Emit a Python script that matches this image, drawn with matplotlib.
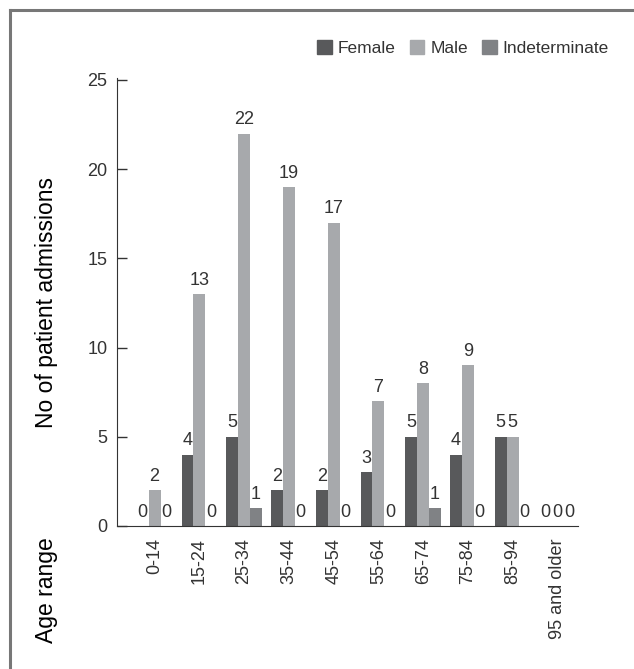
import numpy as np
import matplotlib
matplotlib.use("Agg")
import matplotlib.pyplot as plt
from matplotlib.patches import Patch
from matplotlib.lines import Line2D

age_ranges = ["0-14", "15-24", "25-34", "35-44", "45-54", "55-64",
              "65-74", "75-84", "85-94", "95 and older"]
female = [0, 4, 5, 2, 2, 3, 5, 4, 5, 0]
male = [2, 13, 22, 19, 17, 7, 8, 9, 5, 0]
indeterminate = [0, 0, 1, 0, 0, 0, 1, 0, 0, 0]

series_names = ["Female", "Male", "Indeterminate"]
colors = ["#58595b", "#a7a9ac", "#808285"]
text_color = "#333333"

plt.rcParams["font.family"] = ["Liberation Sans", "DejaVu Sans"]

fig = plt.figure(figsize=(6.34, 6.69), dpi=100)
W, H = 634, 669
ax = fig.add_axes([117 / W, 1 - 526 / H, (578 - 117) / W, (526 - 80) / H])

x = np.arange(len(age_ranges))
width = 0.265
for i, (vals, name, c) in enumerate(zip([female, male, indeterminate], series_names, colors)):
    pos = x + (i - 1) * width
    ax.bar(pos, vals, width=width, color=c, label=name)
    for p, v in zip(pos, vals):
        ax.text(p, v + 0.3, str(v), ha="center", va="bottom",
                fontsize=13, color=text_color)

ax.set_xlim(-0.84, 9.46)
ax.set_ylim(0, 25)
ax.set_yticks([0, 5, 10, 15, 20, 25])
ax.tick_params(axis="y", direction="in", length=7, width=1, pad=7,
               labelsize=13, labelcolor=text_color, color=text_color)
ax.set_xticks(x)
ax.set_xticklabels(age_ranges, rotation=90, fontsize=13, color=text_color)
ax.tick_params(axis="x", length=0, pad=9)
for s in ["top", "right"]:
    ax.spines[s].set_visible(False)
ax.spines["left"].set_color(text_color)
ax.spines["bottom"].set_color(text_color)
ax.spines["left"].set_bounds(0, 25.1)

fig.text(46 / W, 1 - 302 / H, "No of patient admissions", rotation=90,
         ha="center", va="center", fontsize=16.5, color="#000000")
fig.text(46 / W, 1 - 590 / H, "Age range", rotation=90,
         ha="center", va="center", fontsize=16.5, color="#000000")

handles = [Patch(color=c, label=n) for c, n in zip(colors, series_names)]
fig.legend(handles=handles, loc="center right", bbox_to_anchor=(609 / W, 1 - 48 / H),
           ncol=3, frameon=False, fontsize=12.5, handlelength=0.85, handleheight=0.85,
           handletextpad=0.35, columnspacing=0.8, labelcolor=text_color,
           borderaxespad=0, borderpad=0)

# grey frame round the chart, only left and top edges fall inside the picture
fig.lines.append(Line2D([10 / W, 10 / W], [0, 1 - 10 / H], transform=fig.transFigure,
                        color="#777777", linewidth=2.2))
fig.lines.append(Line2D([10 / W, 1], [1 - 10 / H, 1 - 10 / H], transform=fig.transFigure,
                        color="#777777", linewidth=2.2))

fig.savefig("out.png", dpi=100)
